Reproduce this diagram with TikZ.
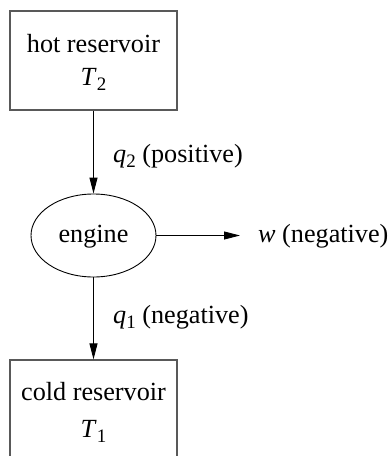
\documentclass[tikz,border=0pt]{standalone}
\usepackage{fontspec}
\setmainfont{Liberation Serif}
\usetikzlibrary{arrows.meta,shapes.geometric}
\newcommand\lowsub[1]{\raisebox{-5pt}{\fontsize{19}{19}\selectfont #1}}
\begin{document}
\begin{tikzpicture}[x=1pt,y=-1pt,
  every node/.style={font=\fontsize{26.2}{31}\selectfont},
  res/.style={draw=black!65, line width=1.2pt, minimum width=167pt, minimum height=99pt, inner sep=0pt},
  eng/.style={draw, ellipse, line width=0.9pt, minimum width=125pt, minimum height=83pt, inner sep=0pt},
  txt/.style={anchor=base, inner sep=0pt},
  lbl/.style={anchor=base west, inner sep=0pt},
  flow/.style={line width=0.9pt, -{Triangle[length=16pt,width=8pt]}}]
\useasboundingbox (0,0) rectangle (391,456);
\node[res] (hot) at (93.5,60.5) {};
\node[txt] (hotname) at (93.5,52) {hot reservoir};
\node[txt] (hotT) at (93.5,85) {\textit{T}\lowsub{2}};
\node[eng] (engine) at (93.5,235.5) {};
\node[txt] (engtxt) at (93.5,242) {engine};
\node[res] (cold) at (93.5,409.5) {};
\node[txt] (coldname) at (93.5,400) {cold reservoir};
\node[txt] (coldT) at (93.5,437) {\textit{T}\lowsub{1}};
\coordinate (wend) at (240,235.5);
\node[lbl] (wlbl) at (258,242) {\textit{w} (negative)};
\node[lbl] (q2) at (113,162) {\textit{q}\lowsub{2} (positive)};
\node[lbl] (q1) at (113,323) {\textit{q}\lowsub{1} (negative)};
\draw[flow] (hot) -- (engine);
\draw[flow] (engine.east) -- (wend);
\draw[flow] (engine) -- (cold);
\end{tikzpicture}
\end{document}
